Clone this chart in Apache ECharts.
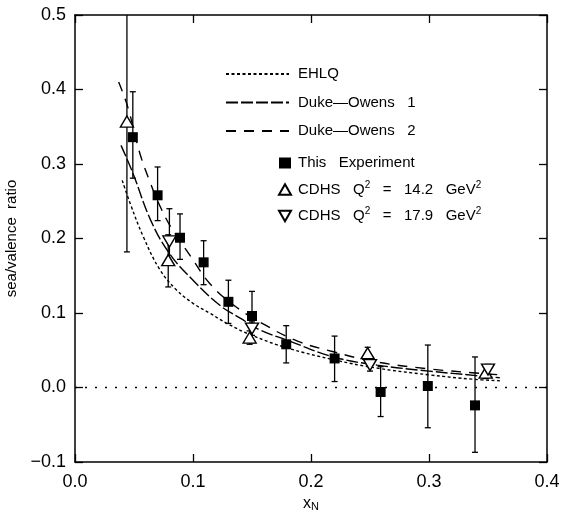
<!DOCTYPE html>
<html>
<head>
<meta charset="utf-8">
<script src="https://cdn.jsdelivr.net/npm/echarts@6/dist/echarts.min.js"></script>
<style>
  html, body { margin: 0; padding: 0; background: #fff; }
  #chart { width: 568px; height: 512px; }
</style>
</head>
<body>
<div id="chart"></div>
<script>
// theory curves
var ehlqX = [0.040, 0.047, 0.058, 0.072, 0.086, 0.100, 0.114, 0.130, 0.150, 0.180, 0.220, 0.256, 0.300, 0.338, 0.360];
var ehlqY = [0.278, 0.246, 0.202, 0.158, 0.131, 0.113, 0.100, 0.085, 0.070, 0.053, 0.037, 0.026, 0.017, 0.011, 0.009];
var do1X = [0.039, 0.049, 0.064, 0.080, 0.100, 0.123, 0.140, 0.157, 0.179, 0.219, 0.256, 0.300, 0.340, 0.360];
var do1Y = [0.325, 0.288, 0.225, 0.180, 0.144, 0.110, 0.093, 0.077, 0.064, 0.041, 0.030, 0.022, 0.016, 0.013];
var do2X = [0.037, 0.045, 0.055, 0.064, 0.071, 0.081, 0.098, 0.114, 0.134, 0.161, 0.189, 0.219, 0.253, 0.300, 0.343, 0.360];
var do2Y = [0.410, 0.375, 0.314, 0.274, 0.247, 0.216, 0.176, 0.140, 0.111, 0.084, 0.062, 0.048, 0.035, 0.025, 0.019, 0.017];

// this experiment
var expX  = [0.049, 0.070, 0.089, 0.109, 0.130, 0.150, 0.179, 0.220, 0.259, 0.299, 0.339];
var expY  = [0.336, 0.258, 0.201, 0.168, 0.115, 0.096, 0.058, 0.039, -0.006, 0.002, -0.024];
var expLo = [0.281, 0.224, 0.172, 0.138, 0.086, 0.060, 0.033, 0.008, -0.039, -0.054, -0.087];
var expHi = [0.397, 0.296, 0.233, 0.197, 0.144, 0.129, 0.083, 0.069, 0.028, 0.057, 0.041];

// CDHS Q2 = 14.2
var cdhs1X  = [0.044, 0.079, 0.148, 0.248, 0.348];
var cdhs1Y  = [0.357, 0.171, 0.067, 0.046, 0.020];
var cdhs1Lo = [0.182, 0.135, 0.058, 0.038, 0.012];
var cdhs1Hi = [0.560, 0.205, 0.076, 0.054, 0.028];

// CDHS Q2 = 17.9
var cdhs2X  = [0.080, 0.150, 0.250, 0.350];
var cdhs2Y  = [0.196, 0.079, 0.030, 0.024];
var cdhs2Lo = [0.165, 0.070, 0.022, 0.017];
var cdhs2Hi = [0.240, 0.088, 0.038, 0.031];

var xTicks = [0.0, 0.1, 0.2, 0.3, 0.4];

var FONT = 'Liberation Sans';
var TRI_UP = 'path://M5,0 L10,8.66 L0,8.66 Z';
var TRI_DOWN = 'path://M0,0 L10,0 L5,8.66 Z';

function pairs(xs, ys) {
  return xs.map(function (x, i) { return [x, ys[i]]; });
}
function triples(xs, lo, hi) {
  return xs.map(function (x, i) { return [x, lo[i], hi[i]]; });
}

// vertical error bar with small caps, clipped to the grid
function errBar(params, api) {
  var x = api.value(0);
  var a = api.coord([x, api.value(1)]);
  var b = api.coord([x, api.value(2)]);
  var cs = params.coordSys;
  var top = Math.max(b[1], cs.y);
  var bot = Math.min(a[1], cs.y + cs.height);
  var st = { stroke: '#000', lineWidth: 1.3 };
  var kids = [{ type: 'line', shape: { x1: a[0], y1: bot, x2: a[0], y2: top }, style: st }];
  if (b[1] >= cs.y) kids.push({ type: 'line', shape: { x1: b[0] - 3, y1: b[1], x2: b[0] + 3, y2: b[1] }, style: st });
  kids.push({ type: 'line', shape: { x1: a[0] - 3, y1: a[1], x2: a[0] + 3, y2: a[1] }, style: st });
  return { type: 'group', children: kids };
}

var chart = echarts.init(document.getElementById('chart'));

var sup = { fontSize: 10, fontFamily: FONT, color: '#000', padding: [0, 0, 9, 0] };
var sub = { fontSize: 11, fontFamily: FONT, color: '#000', padding: [7, 0, 0, 0] };

chart.setOption({
  backgroundColor: '#fff',
  animation: false,
  grid: { left: 75, right: 21, top: 15, bottom: 50, outerBoundsMode: 'none' },
  legend: [
    {
      orient: 'vertical', left: 220, top: 61,
      itemWidth: 63, itemHeight: 14, itemGap: 12.5,
      itemStyle: { opacity: 0 },
      data: ['EHLQ', 'Duke\u2014Owens   1', 'Duke\u2014Owens   2'],
      textStyle: { fontFamily: FONT, fontSize: 15, color: '#000', lineHeight: 16, padding: [0, 0, 0, 4] }
    },
    {
      orient: 'vertical', left: 273, top: 150,
      itemWidth: 12, itemHeight: 11, itemGap: 9,
      data: ['This   Experiment', 'CDHS14', 'CDHS17'],
      formatter: function (n) {
        if (n === 'CDHS14') return 'CDHS   Q{sup|2}   =   14.2   GeV{sup|2}';
        if (n === 'CDHS17') return 'CDHS   Q{sup|2}   =   17.9   GeV{sup|2}';
        return n;
      },
      textStyle: { fontFamily: FONT, fontSize: 15, color: '#000', lineHeight: 16, padding: [0, 0, 0, 2], rich: { sup: sup } }
    }
  ],
  xAxis: [
    {
      type: 'value', min: 0, max: 0.4, interval: 0.1,
      name: 'x{sub|N}', nameLocation: 'middle', nameGap: 26,
      nameTextStyle: { fontFamily: FONT, fontSize: 16, color: '#000', rich: { sub: sub } },
      axisLine: { onZero: false, lineStyle: { color: '#000', width: 1.5 } },
      axisTick: { inside: true, length: 8, lineStyle: { color: '#000', width: 1.3 } },
      axisLabel: {
        margin: 11, fontFamily: FONT, fontSize: 18, color: '#000',
        formatter: function (v) { return xTicks.indexOf(v) >= 0 ? v.toFixed(1) : ''; }
      },
      splitLine: { show: false }
    },
    {
      type: 'value', position: 'top', min: 0, max: 0.4, interval: 0.1,
      axisLine: { onZero: false, lineStyle: { color: '#000', width: 1.5 } },
      axisTick: { inside: true, length: 8, lineStyle: { color: '#000', width: 1.3 } },
      axisLabel: { show: false },
      splitLine: { show: false }
    }
  ],
  yAxis: [
    {
      type: 'value', min: -0.1, max: 0.5, interval: 0.1,
      name: 'sea/valence  ratio', nameLocation: 'middle', nameGap: 47,
      nameTextStyle: { fontFamily: FONT, fontSize: 15, color: '#000' },
      axisLine: { onZero: false, lineStyle: { color: '#000', width: 1.5 } },
      axisTick: { inside: true, length: 8, lineStyle: { color: '#000', width: 1.3 } },
      axisLabel: {
        margin: 9, fontFamily: FONT, fontSize: 18, color: '#000',
        formatter: function (v) { return v.toFixed(1).replace('-', '\u2212'); }
      },
      splitLine: { show: false }
    },
    {
      type: 'value', position: 'right', min: -0.1, max: 0.5, interval: 0.1,
      axisLine: { onZero: false, lineStyle: { color: '#000', width: 1.5 } },
      axisTick: { inside: true, length: 8, lineStyle: { color: '#000', width: 1.3 } },
      axisLabel: { show: false },
      splitLine: { show: false }
    }
  ],
  series: [
    {
      name: 'EHLQ', type: 'line', data: pairs(ehlqX, ehlqY),
      smooth: 0.4, symbol: 'none', color: '#000',
      lineStyle: { color: '#000', width: 1.4, type: [3, 2.5] },
      markLine: {
        silent: true, symbol: 'none', label: { show: false },
        lineStyle: { color: '#000', width: 1.3, type: [2, 8] },
        data: [{ yAxis: 0 }]
      }
    },
    {
      name: 'Duke\u2014Owens   1', type: 'line', data: pairs(do1X, do1Y),
      smooth: 0.4, symbol: 'none', color: '#000',
      lineStyle: { color: '#000', width: 1.4, type: [12, 3] }
    },
    {
      name: 'Duke\u2014Owens   2', type: 'line', data: pairs(do2X, do2Y),
      smooth: 0.4, symbol: 'none', color: '#000',
      lineStyle: { color: '#000', width: 1.4, type: [10, 8] }
    },
    { type: 'custom', renderItem: errBar, data: triples(expX, expLo, expHi), encode: { x: 0, y: [1, 2] }, z: 3 },
    { type: 'custom', renderItem: errBar, data: triples(cdhs1X, cdhs1Lo, cdhs1Hi), encode: { x: 0, y: [1, 2] }, z: 3 },
    { type: 'custom', renderItem: errBar, data: triples(cdhs2X, cdhs2Lo, cdhs2Hi), encode: { x: 0, y: [1, 2] }, z: 3 },
    {
      name: 'This   Experiment', type: 'scatter', data: pairs(expX, expY),
      symbol: 'rect', symbolSize: 10, z: 5,
      itemStyle: { color: '#000', opacity: 1 }
    },
    {
      name: 'CDHS14', type: 'scatter', data: pairs(cdhs1X, cdhs1Y),
      symbol: TRI_UP, symbolSize: [13, 11], z: 5,
      itemStyle: { color: '#fff', borderColor: '#000', borderWidth: 1.4, opacity: 1 }
    },
    {
      name: 'CDHS17', type: 'scatter', data: pairs(cdhs2X, cdhs2Y),
      symbol: TRI_DOWN, symbolSize: [13, 11], z: 5,
      itemStyle: { color: '#fff', borderColor: '#000', borderWidth: 1.4, opacity: 1 }
    }
  ]
});
</script>
</body>
</html>
